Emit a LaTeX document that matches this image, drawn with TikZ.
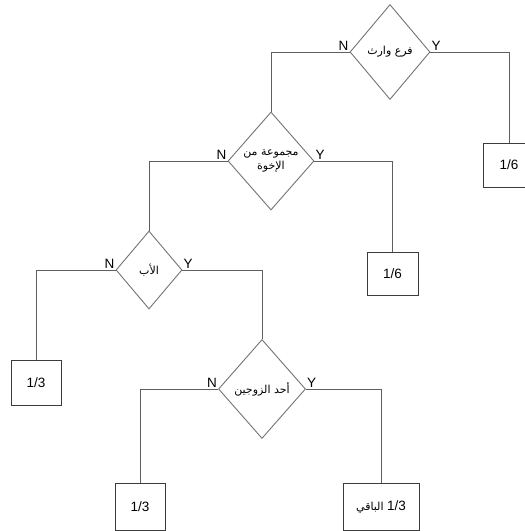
\documentclass[tikz,border=0pt]{standalone}
\usepackage{fontspec}
\setmainfont{Liberation Sans}
\newfontfamily\arabicfont[Script=Arabic]{DejaVu Sans}
\TeXXeTstate=1
\usetikzlibrary{shapes.geometric}
\definecolor{linecol}{RGB}{95,95,95}
\definecolor{diacol}{RGB}{115,115,115}
\definecolor{boxcol}{RGB}{60,60,60}
\tikzset{
  dia/.style={diamond, draw=diacol, line width=0.9pt, inner sep=0pt, align=center,
    font=\arabicfont\fontsize{11}{14}\selectfont},
  resbox/.style={rectangle, draw=boxcol, line width=1pt, inner sep=0pt, font=\fontsize{13.5}{15}\selectfont},
  conn/.style={draw=linecol, line width=1pt},
  yn/.style={inner sep=1pt, font=\fontsize{13.5}{15}\selectfont}
}
\begin{document}
\begin{tikzpicture}[x=1pt,y=-1pt]
\clip (0,0) rectangle (525,531);
% diamonds
\node[dia, minimum width=80pt, minimum height=95pt] (d1) at (390,52) {\beginR فرع وارث\endR};
\node[dia, minimum width=86pt, minimum height=98pt] (d2) at (271,161) {\beginR مجموعة من\endR\\\beginR الإخوة\endR};
\node[dia, minimum width=66pt, minimum height=78pt] (d3) at (149,270) {\beginR الأب\endR};
\node[dia, minimum width=87pt, minimum height=99pt] (d4) at (262,389) {\beginR أحد الزوجين\endR};
% boxes
\node[resbox, minimum width=51pt, minimum height=44pt] (b1) at (509,165) {1/6};
\node[resbox, minimum width=51pt, minimum height=43pt] (b2) at (392.5,273.5) {1/6};
\node[resbox, minimum width=50pt, minimum height=45pt] (b3) at (36,382.5) {1/3};
\node[resbox, minimum width=50pt, minimum height=47pt] (b4) at (140,506.5) {1/3};
\node[resbox, minimum width=76pt, minimum height=47pt] (b5) at (381,506.5) {{\arabicfont\fontsize{11}{14}\selectfont\beginR\beginL{\fontspec{Liberation Sans}\fontsize{13.5}{15}\selectfont 1/3}\endL{} الباقي\endR}};
% connectors
\draw[conn] (d1.east) -| (b1.north);
\draw[conn] (d1.west) -| (d2.north);
\draw[conn] (d2.east) -| (b2.north);
\draw[conn] (d2.west) -| (d3.north);
\draw[conn] (d3.west) -| (b3.north);
\draw[conn] (d3.east) -| (d4.north);
\draw[conn] (d4.west) -| (b4.north);
\draw[conn] (d4.east) -| (b5.north);
% labels
\node[yn, anchor=south east] (n1) at (d1.west) {N};
\node[yn, anchor=south west] (y1) at (d1.east) {Y};
\node[yn, anchor=south east] (n2) at (d2.west) {N};
\node[yn, anchor=south west] (y2) at (d2.east) {Y};
\node[yn, anchor=south east] (n3) at (d3.west) {N};
\node[yn, anchor=south west] (y3) at (d3.east) {Y};
\node[yn, anchor=south east] (n4) at (d4.west) {N};
\node[yn, anchor=south west] (y4) at (d4.east) {Y};
\end{tikzpicture}
\end{document}
